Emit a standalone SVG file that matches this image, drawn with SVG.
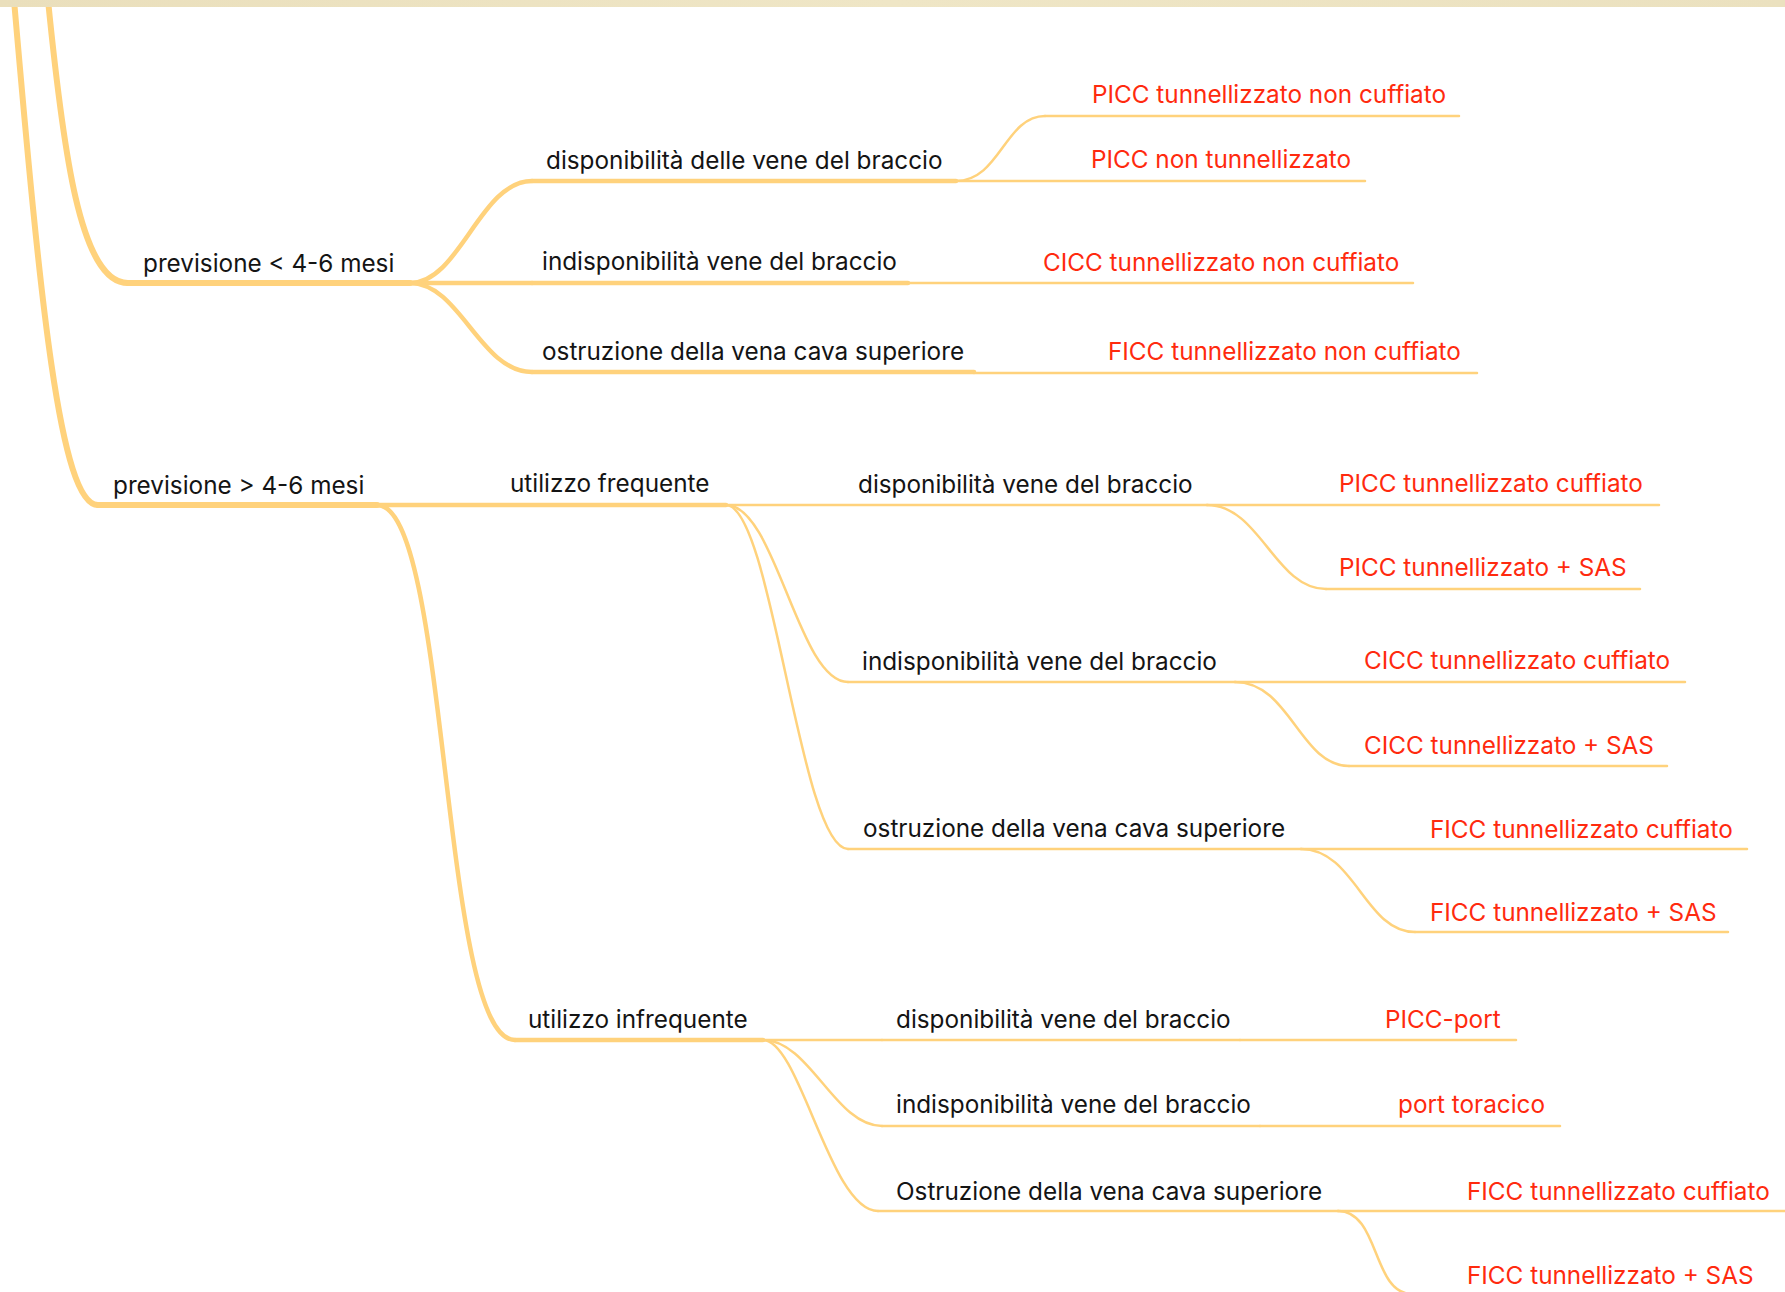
<svg xmlns="http://www.w3.org/2000/svg" width="1785" height="1292" viewBox="0 0 1785 1292">
<defs>
<style>
.t{font-family:Inter,"Liberation Sans",sans-serif;font-size:24.3px;fill:#141414}
.r{font-family:Inter,"Liberation Sans",sans-serif;font-size:24.3px;fill:#FF2A0E}
.l1,.l2,.l3{fill:none;stroke:#FFD27C;stroke-linecap:round}
.l1{stroke-width:6}
.l2{stroke-width:4.5}
.l3{stroke-width:2.5}
</style>
<linearGradient id="band" x1="0" y1="0" x2="1" y2="0">
<stop offset="0" stop-color="#EADFBC"/><stop offset="0.5" stop-color="#EFE6C6"/><stop offset="1" stop-color="#EBE1BF"/>
</linearGradient>
</defs>
<rect x="0" y="0" width="1785" height="1292" fill="#FFFFFF"/>
<g id="connectors">
<path class="l1" d="M48 0 C 63 150, 80 283, 128 283"/>
<path class="l1" d="M14 0 C 40 300, 60 505, 98 505"/>
<path class="l2" d="M410 283 C 460 283, 480 181, 532 181"/>
<path class="l2" d="M410 283 H532"/>
<path class="l2" d="M410 283 C 460 283, 480 372, 532 372"/>
<path class="l3" d="M956 181 C 1000 181, 1005 116, 1045 116"/>
<path class="l2" d="M377 505 C 450 505, 440 1040, 515 1040"/>
<path class="l3" d="M726 505 C 776 505, 798 682, 848 682"/>
<path class="l3" d="M726 505 C 772 505, 800 849, 848 849"/>
<path class="l3" d="M1207 505 C 1260 505, 1275 589, 1326 589"/>
<path class="l3" d="M1235 682 C 1290 682, 1300 766, 1349 766"/>
<path class="l3" d="M1301 849 C 1355 849, 1365 932, 1415 932"/>
<path class="l3" d="M763 1040 H882"/>
<path class="l3" d="M763 1040 C 810 1040, 835 1126, 882 1126"/>
<path class="l3" d="M763 1040 C 800 1040, 830 1211, 878 1211"/>
<path class="l3" d="M1338 1211 C 1380 1211, 1372 1294, 1412 1294"/>
</g>
<g id="n-prev-lt"><path class="l1" d="M128 283 H410"/><text class="t" x="143" y="272">previsione &lt; 4-6 mesi</text></g>
<g id="n-disp1"><path class="l2" d="M532 181 H956"/><text class="t" x="546" y="169">disponibilità delle vene del braccio</text></g>
<g id="n-indisp1"><path class="l2" d="M532 283 H908"/><text class="t" x="542" y="270">indisponibilità vene del braccio</text></g>
<g id="n-ostr1"><path class="l2" d="M532 372 H974"/><text class="t" x="542" y="360">ostruzione della vena cava superiore</text></g>
<g id="leaf1"><path class="l3" d="M1045 116 H1459"/><text class="r" x="1092" y="103">PICC tunnellizzato non cuffiato</text></g>
<g id="leaf2"><path class="l3" d="M956 181 H1365"/><text class="r" x="1091" y="168">PICC non tunnellizzato</text></g>
<g id="leaf3"><path class="l3" d="M908 283 H1413"/><text class="r" x="1043" y="271">CICC tunnellizzato non cuffiato</text></g>
<g id="leaf4"><path class="l3" d="M974 373 H1477"/><text class="r" x="1108" y="360">FICC tunnellizzato non cuffiato</text></g>
<g id="n-prev-gt"><path class="l1" d="M98 505 H377"/><text class="t" x="113" y="494">previsione &gt; 4-6 mesi</text></g>
<g id="n-freq"><path class="l2" d="M377 505 H726"/><text class="t" x="510" y="492">utilizzo frequente</text></g>
<g id="n-infreq"><path class="l2" d="M515 1040 H763"/><text class="t" x="528" y="1028">utilizzo infrequente</text></g>
<g id="n-disp2"><path class="l3" d="M726 505 H1207"/><text class="t" x="858" y="493">disponibilità vene del braccio</text></g>
<g id="n-indisp2"><path class="l3" d="M848 682 H1235"/><text class="t" x="862" y="670">indisponibilità vene del braccio</text></g>
<g id="n-ostr2"><path class="l3" d="M848 849 H1301"/><text class="t" x="863" y="837">ostruzione della vena cava superiore</text></g>
<g id="leaf5"><path class="l3" d="M1207 505 H1659"/><text class="r" x="1339" y="492">PICC tunnellizzato cuffiato</text></g>
<g id="leaf6"><path class="l3" d="M1326 589 H1640"/><text class="r" x="1339" y="576">PICC tunnellizzato + SAS</text></g>
<g id="leaf7"><path class="l3" d="M1235 682 H1685"/><text class="r" x="1364" y="669">CICC tunnellizzato cuffiato</text></g>
<g id="leaf8"><path class="l3" d="M1349 766 H1667"/><text class="r" x="1364" y="754">CICC tunnellizzato + SAS</text></g>
<g id="leaf9"><path class="l3" d="M1301 849 H1747"/><text class="r" x="1430" y="838">FICC tunnellizzato cuffiato</text></g>
<g id="leaf10"><path class="l3" d="M1415 932 H1728"/><text class="r" x="1430" y="921">FICC tunnellizzato + SAS</text></g>
<g id="n-disp3"><path class="l3" d="M882 1040 H1240"/><text class="t" x="896" y="1028">disponibilità vene del braccio</text></g>
<g id="n-indisp3"><path class="l3" d="M882 1126 H1260"/><text class="t" x="896" y="1113">indisponibilità vene del braccio</text></g>
<g id="n-ostr3"><path class="l3" d="M878 1211 H1338"/><text class="t" x="896" y="1200">Ostruzione della vena cava superiore</text></g>
<g id="leaf11"><path class="l3" d="M1240 1040 H1516"/><text class="r" x="1385" y="1028">PICC-port</text></g>
<g id="leaf12"><path class="l3" d="M1260 1126 H1560"/><text class="r" x="1398" y="1113">port toracico</text></g>
<g id="leaf13"><path class="l3" d="M1338 1211 H1785"/><text class="r" x="1467" y="1200">FICC tunnellizzato cuffiato</text></g>
<g id="leaf14"><path class="l3" d="M1412 1294 H1760"/><text class="r" x="1467" y="1284">FICC tunnellizzato + SAS</text></g>
<rect x="0" y="0" width="1785" height="7" fill="url(#band)"/>
</svg>
